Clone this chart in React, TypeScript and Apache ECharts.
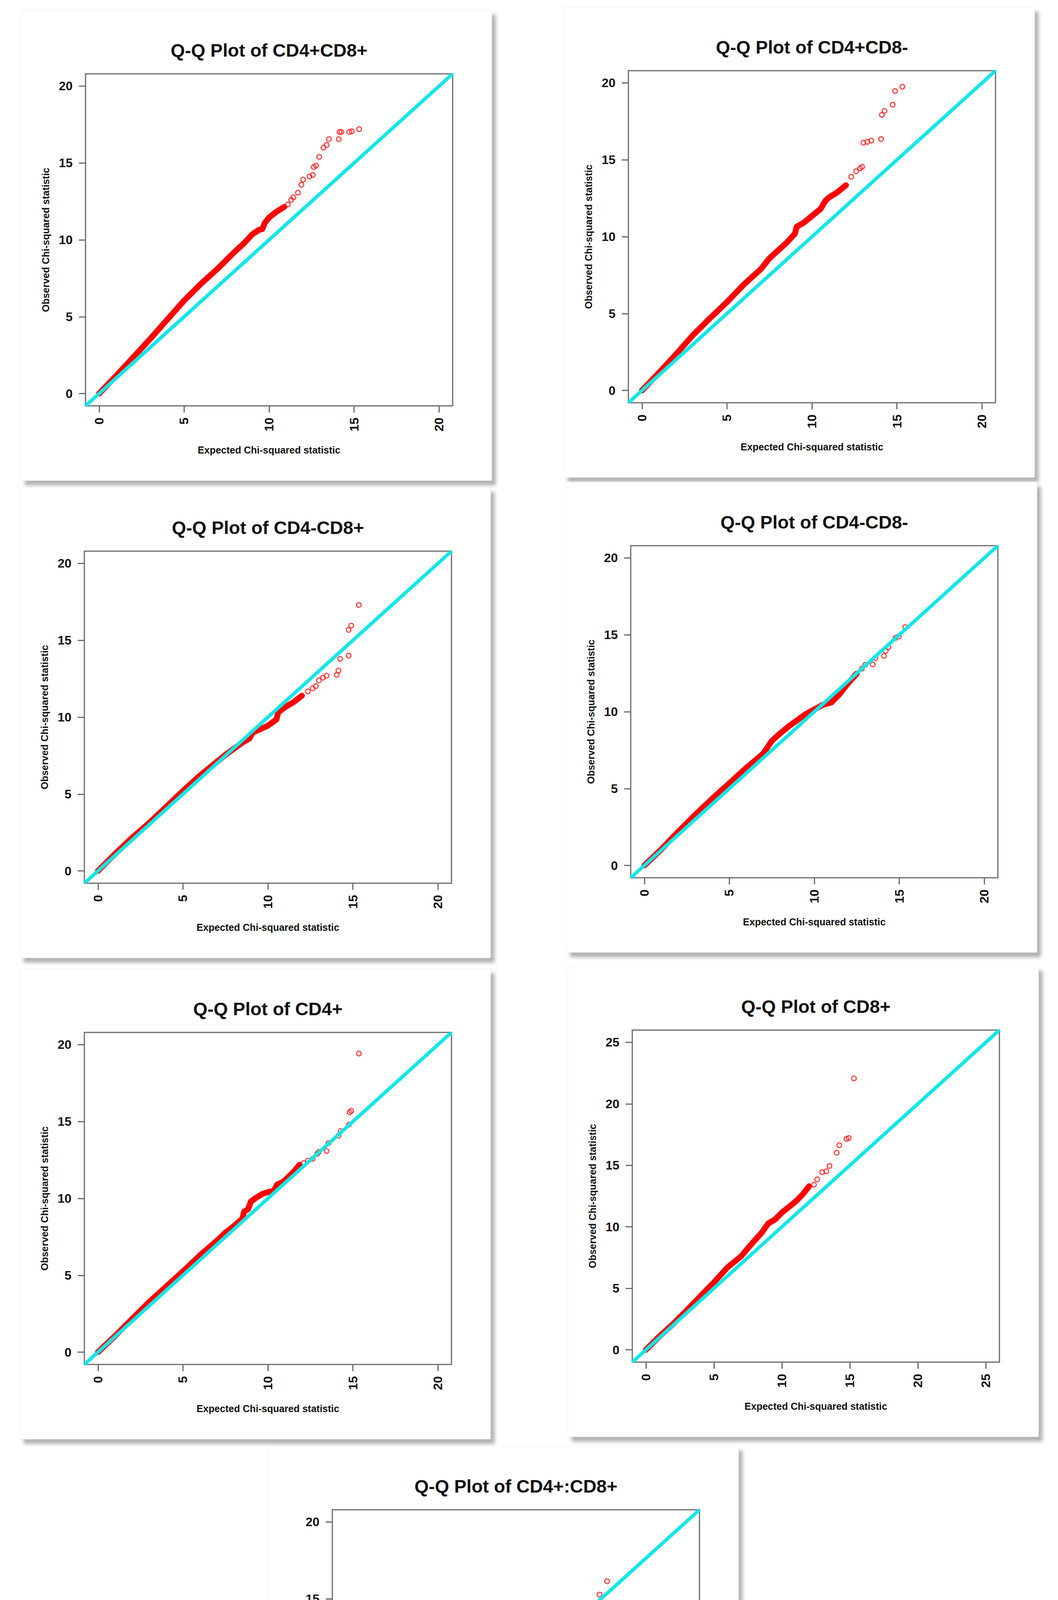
// Q-Q plots of the seven cell groups, one chart per card
import * as echarts from 'echarts'
import { useEffect, useRef } from 'react'

const titles = [
  'Q-Q Plot of CD4+CD8+',
  'Q-Q Plot of CD4+CD8-',
  'Q-Q Plot of CD4-CD8+',
  'Q-Q Plot of CD4-CD8-',
  'Q-Q Plot of CD4+',
  'Q-Q Plot of CD8+',
  'Q-Q Plot of CD4+:CD8+',
]
const xName = 'Expected Chi-squared statistic'
const yName = 'Observed Chi-squared statistic'
const ticks20 = [0, 5, 10, 15, 20]
const ticks25 = [0, 5, 10, 15, 20, 25]

// dense band of points and the sparse upper tail
const cd4pCd8pBand = [[0, 0], [1, 1.15], [2, 2.35], [3, 3.55], [4, 4.8], [5, 6.05], [6, 7.15], [7, 8.15], [8, 9.25], [8.5, 9.75], [9, 10.35], [9.4, 10.65], [9.6, 10.7], [9.75, 11.1], [10, 11.45], [10.4, 11.8], [10.9, 12.15]]
const cd4pCd8pTail = [[11.1, 12.3], [11.3, 12.6], [11.43, 12.77], [11.7, 13.07], [11.9, 13.58], [12.0, 13.92], [12.38, 14.12], [12.57, 14.22], [12.63, 14.73], [12.76, 14.83], [12.95, 15.4], [13.2, 16.0], [13.39, 16.17], [13.52, 16.55], [14.1, 16.55], [14.15, 17.02], [14.25, 17.02], [14.72, 17.02], [14.86, 17.06], [15.3, 17.2]]

const cd4pCd8nBand = [[0, 0], [1, 1.15], [2, 2.35], [3, 3.6], [4, 4.7], [5, 5.75], [6, 6.9], [7, 7.9], [7.5, 8.6], [8, 9.1], [8.5, 9.6], [9, 10.2], [9.1, 10.65], [9.5, 10.9], [10, 11.35], [10.5, 11.8], [10.8, 12.35], [11, 12.55], [11.5, 12.9], [12, 13.35]]
const cd4pCd8nTail = [[12.31, 13.9], [12.6, 14.26], [12.83, 14.45], [12.95, 14.55], [13.03, 16.12], [13.26, 16.17], [13.49, 16.25], [14.07, 16.35], [14.11, 17.93], [14.27, 18.18], [14.75, 18.59], [14.89, 19.48], [15.32, 19.76]]

const cd4nCd8pBand = [[0, 0], [1, 1.1], [2, 2.15], [3, 3.1], [4, 4.15], [5, 5.2], [6, 6.2], [7, 7.1], [7.5, 7.55], [8, 7.95], [8.5, 8.35], [8.9, 8.6], [9.1, 9.0], [9.5, 9.2], [10, 9.45], [10.5, 9.85], [10.6, 10.3], [11, 10.65], [11.5, 10.97], [12, 11.4]]
const cd4nCd8pTail = [[12.35, 11.68], [12.63, 11.88], [12.82, 12.02], [13.0, 12.4], [13.24, 12.57], [13.45, 12.7], [14.05, 12.75], [14.15, 13.03], [14.25, 13.8], [14.75, 14.0], [14.75, 15.68], [14.9, 15.96], [15.35, 17.3]]

const cd4nCd8nBand = [[0, 0], [1, 1.05], [2, 2.2], [3, 3.3], [4, 4.35], [5, 5.34], [6, 6.35], [7, 7.28], [7.5, 8.1], [8, 8.6], [8.5, 9.05], [9, 9.45], [9.5, 9.85], [10, 10.15], [10.5, 10.45], [11, 10.6], [11.5, 11.16], [12, 11.87], [12.5, 12.48]]
const cd4nCd8nTail = [[12.8, 12.8], [13.0, 13.05], [13.44, 13.08], [13.6, 13.49], [14.1, 13.63], [14.2, 13.95], [14.36, 14.2], [14.78, 14.8], [14.97, 14.9], [15.35, 15.5]]

const cd4pBand = [[0, 0], [1, 1.05], [2, 2.15], [3, 3.25], [4, 4.25], [5, 5.25], [6, 6.3], [7, 7.25], [7.5, 7.78], [8, 8.2], [8.5, 8.69], [8.6, 9.15], [8.83, 9.29], [9.0, 9.8], [9.3, 10.04], [9.69, 10.3], [9.97, 10.4], [10.35, 10.5], [10.54, 10.9], [10.92, 11.1], [11.4, 11.6], [11.87, 12.2]]
const cd4pTail = [[12.1, 12.3], [12.35, 12.46], [12.63, 12.58], [12.9, 12.9], [13.0, 13.03], [13.45, 13.09], [13.56, 13.6], [14.15, 14.08], [14.28, 14.38], [14.76, 14.8], [14.81, 15.6], [14.9, 15.7], [15.35, 19.43]]

const cd8pBand = [[0, 0], [1, 1.1], [2, 2.1], [3, 3.2], [4, 4.35], [5, 5.48], [6, 6.7], [7, 7.6], [7.5, 8.26], [8, 8.9], [8.5, 9.5], [9, 10.28], [9.5, 10.6], [10, 11.16], [10.5, 11.6], [11, 12.05], [11.5, 12.6], [12, 13.3]]
const cd8pTail = [[12.36, 13.43], [12.6, 13.86], [12.96, 14.44], [13.27, 14.52], [13.5, 14.95], [14.03, 16.03], [14.22, 16.64], [14.75, 17.15], [14.92, 17.22], [15.3, 22.07]]

const cd4pXcd8pBand = [[0, 0], [1, 1.15], [2, 2.25], [3, 3.4], [4, 4.5], [5, 5.53], [6, 6.55], [7, 7.35], [7.5, 7.85], [8, 8.3], [8.5, 8.66], [9, 9.07], [9.1, 9.27], [9.5, 9.68], [9.9, 9.98], [10.3, 10.12], [10.7, 10.38], [11.1, 10.65], [11.4, 11.0], [11.7, 11.5], [11.9, 11.86]]
const cd4pXcd8pTail = [[12.25, 11.9], [12.55, 12.06], [12.75, 12.6], [12.94, 13.3], [13.24, 13.56], [13.54, 13.56], [14.07, 13.62], [14.19, 14.57], [14.33, 14.57], [14.78, 14.7], [14.92, 15.28], [15.36, 16.15]]

const bands = [cd4pCd8pBand, cd4pCd8nBand, cd4nCd8pBand, cd4nCd8nBand, cd4pBand, cd8pBand, cd4pXcd8pBand]
const tails = [cd4pCd8pTail, cd4pCd8nTail, cd4nCd8pTail, cd4nCd8nTail, cd4pTail, cd8pTail, cd4pXcd8pTail]
const tickSets = [ticks20, ticks20, ticks20, ticks20, ticks20, ticks25, ticks20]

// plot box position of each card on the page (left, top)
const boxes = [[219, 189], [1609, 181], [216, 1411], [1615, 1397], [216, 2643], [1619, 2637], [851, 3865]]
const BOX_W = 940
const BOX_H = 850
const CARD_W = 1205
const CARD_H = 1204
const PAD = 30 // room round the card for its shadow
const FONT = 'Arial, "Liberation Sans", sans-serif'
const INK = '#111'
const FRAME = '#6a6a6a'

type QQPanelProps = {
  title: string
  band: number[][]
  tail: number[][]
  ticks: number[]
}

const QQPanel = ({ title, band, tail, ticks }: QQPanelProps) => {
  const chartRef = useRef<HTMLDivElement | null>(null)
  useEffect(() => {
    if (!chartRef.current) return
    const myChart = echarts.init(chartRef.current, undefined, { renderer: 'svg' })
    const end = ticks[ticks.length - 1]
    const lo = -0.04 * end
    const hi = 1.04 * end
    const left = PAD + 165
    const top = PAD + 163
    const axisCommon = {
      type: 'value', min: lo, max: hi,
      axisLine: { show: false, onZero: false },
      axisTick: { show: true, customValues: ticks, length: 17, lineStyle: { color: FRAME, width: 3 } },
      splitLine: { show: false },
      nameLocation: 'middle',
      nameTextStyle: { fontSize: 25, fontWeight: 'bold', color: INK, fontFamily: FONT },
    }
    myChart.setOption({
      animation: false,
      title: {
        text: title, left: left + BOX_W / 2, top: top - 61, padding: 0,
        textAlign: 'center', textVerticalAlign: 'middle',
        textStyle: { fontSize: 47, fontWeight: 'bold', color: INK, fontFamily: FONT },
      },
      grid: { left, top, width: BOX_W, height: BOX_H, show: true, borderColor: FRAME, borderWidth: 3, outerBoundsMode: 'none' },
      xAxis: {
        ...axisCommon, position: 'bottom', name: xName, nameGap: 100,
        axisLabel: { customValues: ticks, rotate: 90, margin: 30, fontSize: 32, fontWeight: 'bold', color: INK, fontFamily: FONT },
      },
      yAxis: {
        ...axisCommon, position: 'left', name: yName, nameGap: 90,
        axisLabel: { customValues: ticks, margin: 33, fontSize: 32, fontWeight: 'bold', color: INK, fontFamily: FONT },
      },
      series: [
        {
          type: 'line', data: band, showSymbol: false, z: 2,
          lineStyle: { color: '#ff0000', width: 15, cap: 'round', join: 'round' },
        },
        {
          type: 'scatter', data: tail, symbol: 'circle', symbolSize: 12, z: 3,
          itemStyle: { color: 'rgba(0,0,0,0)', borderColor: '#ff1a1a', borderWidth: 3 },
        },
        {
          type: 'line', data: [[lo, lo], [hi, hi]], showSymbol: false, z: 5,
          lineStyle: { color: '#14e6e6', width: 9 },
        },
      ],
      graphic: {
        elements: [{
          type: 'rect', z: -10,
          shape: { x: PAD, y: PAD, width: CARD_W, height: CARD_H },
          style: { fill: '#fff', stroke: '#ececec', lineWidth: 1, shadowBlur: 10, shadowOffsetX: 10, shadowOffsetY: 12, shadowColor: 'rgba(0,0,0,0.3)' },
        }],
      },
    })
    return () => {
      myChart.dispose()
    }
  }, [title, band, tail, ticks])
  return <div ref={chartRef} style={{ width: `${CARD_W + PAD * 2}px`, height: `${CARD_H + PAD * 2}px` }}></div>
}

const App = () => {
  // negative margin cancels the body's default 8px margin while keeping the page height in flow
  return (
    <div style={{ position: 'relative', margin: '-8px', width: '2709px', height: '4938px', background: '#fff' }}>
      {boxes.map(([bx, by], i) => (
        <div key={titles[i]} style={{ position: 'absolute', left: `${bx - 165 - PAD}px`, top: `${by - 163 - PAD}px` }}>
          <QQPanel title={titles[i]} band={bands[i]} tail={tails[i]} ticks={tickSets[i]} />
        </div>
      ))}
    </div>
  )
}
export default App
